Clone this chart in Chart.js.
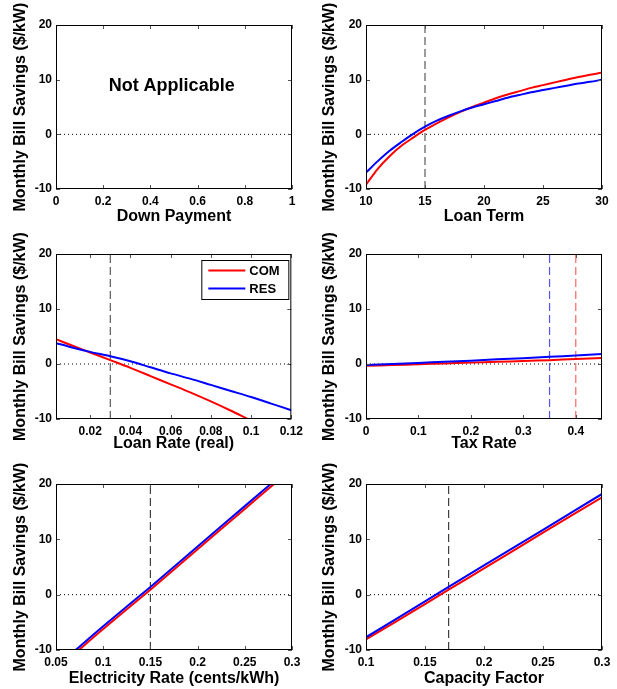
<!DOCTYPE html>
<html>
<head>
<meta charset="utf-8">
<title>Monthly Bill Savings sensitivity</title>
<script src="https://cdn.jsdelivr.net/npm/chart.js@4.4.1/dist/chart.umd.min.js"></script>
<style>
	body { margin: 0; background: #fff; }
	#wrap { position: relative; width: 617px; height: 689px; }
	#wrap canvas { position: absolute; }
</style>
</head>
<body>
<div id="wrap">
	<canvas id="c1" width="308" height="230" style="left:0px;top:0px"></canvas>
	<canvas id="c2" width="308" height="230" style="left:309px;top:0px"></canvas>
	<canvas id="c3" width="308" height="230" style="left:0px;top:230px"></canvas>
	<canvas id="c4" width="308" height="230" style="left:309px;top:230px"></canvas>
	<canvas id="c5" width="308" height="229" style="left:0px;top:460px"></canvas>
	<canvas id="c6" width="308" height="229" style="left:309px;top:460px"></canvas>
</div>
<script>
// ---- data ----
var yTitle = 'Monthly Bill Savings ($/kW)';
var yTicks = [-10, 0, 10, 20];
var seriesNames = ['COM', 'RES'];

// down payment (no curves)
var downTicks = [0, 0.2, 0.4, 0.6, 0.8, 1];
var downNote = 'Not Applicable';

// loan term
var termX   = [10, 11, 12, 13, 14, 15, 16, 17, 18, 19, 20, 21, 22, 23, 24, 25, 26, 27, 28, 29, 30];
var termCom = [-9.2, -6.3, -4.0, -2.1, -0.6, 0.8, 2.0, 3.1, 4.1, 5.0, 5.8, 6.6, 7.3, 7.9, 8.5, 9.0, 9.5, 10.0, 10.5, 10.9, 11.3];
var termRes = [-7.0, -4.9, -3.0, -1.4, 0.1, 1.4, 2.5, 3.4, 4.2, 4.9, 5.5, 6.1, 6.7, 7.2, 7.7, 8.1, 8.5, 8.9, 9.3, 9.6, 10.0];
var termTicks = [10, 15, 20, 25, 30];
var termBase = 15;

// loan rate (real)
var rateX   = [0.003, 0.01, 0.02, 0.03, 0.04, 0.05, 0.06, 0.07, 0.08, 0.09, 0.1, 0.11, 0.12];
var rateCom = [4.5, 3.5, 2.1, 0.7, -0.7, -2.2, -3.7, -5.2, -6.8, -8.5, -10.3, -12.0, -13.8];
var rateRes = [3.8, 3.1, 2.2, 1.4, 0.5, -0.6, -1.7, -2.7, -3.8, -4.9, -6.0, -7.2, -8.4];
var rateTicks = [0.02, 0.04, 0.06, 0.08, 0.1, 0.12];
var rateBase = 0.03;

// tax rate
var taxX   = [0, 0.05, 0.1, 0.15, 0.2, 0.25, 0.3, 0.35, 0.4, 0.45];
var taxCom = [-0.3, -0.2, -0.05, 0.1, 0.25, 0.4, 0.55, 0.7, 0.9, 1.1];
var taxRes = [-0.2, 0.0, 0.2, 0.4, 0.6, 0.85, 1.05, 1.3, 1.55, 1.8];
var taxTicks = [0, 0.1, 0.2, 0.3, 0.4];
var taxBaseRes = 0.35;
var taxBaseCom = 0.4;

// electricity rate
var elecX   = [0.07, 0.1, 0.15, 0.2, 0.25, 0.29];
var elecCom = [-10.6, -6.2, 0.9, 8.2, 15.5, 21.3];
var elecRes = [-10.1, -5.7, 1.4, 8.7, 16.0, 21.8];
var elecTicks = [0.05, 0.1, 0.15, 0.2, 0.25, 0.3];
var elecBase = 0.15;

// capacity factor
var capX   = [0.1, 0.15, 0.17, 0.2, 0.25, 0.3];
var capCom = [-8.1, -1.7, 0.9, 4.75, 11.2, 17.6];
var capRes = [-7.7, -1.2, 1.4, 5.3, 11.7, 18.2];
var capTicks = [0.1, 0.15, 0.2, 0.25, 0.3];
var capBase = 0.17;

// ---- drawing ----
Chart.defaults.font.family = 'Arial, "Liberation Sans", Helvetica, sans-serif';
Chart.defaults.font.weight = 'bold';
Chart.defaults.color = '#000';

var RED = '#ff0000';
var BLUE = '#0000ff';

function _pts(xs, ys) {
	return xs.map(function(x, i) { return { x: x, y: ys[i] }; });
}

function _curve(xs, ys, color, order) {
	return {
		data: _pts(xs, ys),
		borderColor: color,
		borderWidth: 2,
		pointRadius: 0,
		tension: 0.3,
		order: order
	};
}

function _vline(x, color) {
	return {
		data: _pts([x, x], [yTicks[0], yTicks[yTicks.length - 1]]),
		borderColor: color,
		borderWidth: 1.2,
		borderDash: [8, 4],
		pointRadius: 0,
		order: 5
	};
}

function _zeroLine(xMin, xMax) {
	return {
		data: _pts([xMin, xMax], [0, 0]),
		borderColor: '#000',
		borderWidth: 1,
		borderDash: [1, 3],
		pointRadius: 0,
		order: 6
	};
}

// axes box + small inward ticks like the original figure
var framePlugin = {
	id: 'framePlugin',
	afterDatasetsDraw: function(chart) {
		var ctx = chart.ctx;
		var a = chart.chartArea;
		var xs = chart.scales.x;
		var ys = chart.scales.y;
		ctx.save();
		ctx.strokeStyle = '#555';
		ctx.lineWidth = 1;
		ctx.beginPath();
		xs.ticks.forEach(function(t) {
			var px = Math.round(xs.getPixelForValue(t.value)) + 0.5;
			ctx.moveTo(px, a.bottom); ctx.lineTo(px, a.bottom - 4);
			ctx.moveTo(px, a.top); ctx.lineTo(px, a.top + 4);
		});
		ys.ticks.forEach(function(t) {
			var py = Math.round(ys.getPixelForValue(t.value)) + 0.5;
			ctx.moveTo(a.left, py); ctx.lineTo(a.left + 4, py);
			ctx.moveTo(a.right, py); ctx.lineTo(a.right - 4, py);
		});
		ctx.stroke();
		ctx.strokeStyle = '#000';
		ctx.strokeRect(a.left + 0.5, a.top + 0.5, a.right - a.left - 1, a.bottom - a.top - 1);
		ctx.restore();
	}
};

var notePlugin = {
	id: 'notePlugin',
	afterDraw: function(chart) {
		var ctx = chart.ctx;
		ctx.save();
		ctx.font = 'bold 18px Arial, "Liberation Sans", sans-serif';
		ctx.fillStyle = '#000';
		ctx.textAlign = 'center';
		ctx.textBaseline = 'middle';
		ctx.fillText(downNote, chart.scales.x.getPixelForValue(0.49), chart.scales.y.getPixelForValue(8.9));
		ctx.restore();
	}
};

var legendPlugin = {
	id: 'legendPlugin',
	afterDraw: function(chart) {
		var ctx = chart.ctx;
		var a = chart.chartArea;
		var w = 87, h = 39;
		var bx = a.right - 3 - w;
		var by = a.top + 6;
		var colors = [RED, BLUE];
		ctx.save();
		ctx.fillStyle = '#fff';
		ctx.fillRect(bx, by, w, h);
		ctx.strokeStyle = '#000';
		ctx.lineWidth = 1;
		ctx.strokeRect(bx + 0.5, by + 0.5, w, h);
		ctx.font = 'bold 13px Arial, "Liberation Sans", sans-serif';
		ctx.textBaseline = 'middle';
		ctx.textAlign = 'left';
		seriesNames.forEach(function(name, i) {
			var ly = by + 10.5 + i * 18;
			ctx.strokeStyle = colors[i];
			ctx.lineWidth = 2;
			ctx.beginPath();
			ctx.moveTo(bx + 7, ly);
			ctx.lineTo(bx + 44, ly);
			ctx.stroke();
			ctx.fillStyle = '#000';
			ctx.fillText(name, bx + 48, ly + 0.5);
		});
		ctx.restore();
	}
};

function createPanel(id, geo, xMin, xMax, xTicks, xTitle, datasets, extraPlugins) {
	var canvas = document.getElementById(id);
	var cw = canvas.width, chh = canvas.height;
	datasets.push(_zeroLine(xMin, xMax));

	return new Chart(canvas, {
		type: 'line',
		data: { datasets: datasets },
		options: {
			responsive: false,
			animation: false,
			layout: {
				autoPadding: false,
				padding: { left: 0, top: geo.t, right: cw - geo.r, bottom: 0 }
			},
			plugins: {
				legend: { display: false },
				tooltip: { enabled: false }
			},
			scales: {
				x: {
					type: 'linear',
					min: xMin,
					max: xMax,
					grid: { display: false, drawTicks: false },
					border: { display: false },
					ticks: {
						font: { size: 12, weight: 'bold' },
						color: '#000',
						padding: 5,
						maxRotation: 0,
						autoSkip: false,
						callback: function(v) { return String(+v.toFixed(4)); }
					},
					afterBuildTicks: function(s) {
						s.ticks = xTicks.map(function(v) { return { value: v }; });
					},
					afterFit: function(s) { s.height = chh - geo.b; },
					title: {
						display: true,
						text: xTitle,
						font: { size: 16, weight: 'bold' },
						color: '#000',
						padding: { top: 0, bottom: geo.xp }
					}
				},
				y: {
					type: 'linear',
					min: yTicks[0],
					max: yTicks[yTicks.length - 1],
					grid: { display: false, drawTicks: false },
					border: { display: false },
					ticks: {
						font: { size: 12, weight: 'bold' },
						color: '#000',
						padding: 4
					},
					afterBuildTicks: function(s) {
						s.ticks = yTicks.map(function(v) { return { value: v }; });
					},
					afterFit: function(s) { s.width = geo.l; },
					title: {
						display: true,
						text: yTitle,
						font: { size: 16, weight: 'bold' },
						color: '#000',
						padding: { top: 11, bottom: 0 }
					}
				}
			}
		},
		plugins: [framePlugin].concat(extraPlugins || [])
	});
}

// plot areas inside each canvas (left, top, right, bottom) + x title padding
var geoTL = { l: 56, t: 25, r: 292, b: 189, xp: 4 };
var geoTR = { l: 57, t: 25, r: 293, b: 189, xp: 4 };
var geoML = { l: 56, t: 24, r: 292, b: 189, xp: 7 };
var geoMR = { l: 57, t: 24, r: 293, b: 189, xp: 7 };
var geoBL = { l: 56, t: 24, r: 292, b: 190, xp: 1 };
var geoBR = { l: 57, t: 24, r: 293, b: 190, xp: 1 };

createPanel('c1', geoTL, 0, 1, downTicks, 'Down Payment', [], [notePlugin]);

createPanel('c2', geoTR, 10, 30, termTicks, 'Loan Term', [
	_curve(termX, termRes, BLUE, 0),
	_curve(termX, termCom, RED, 1),
	_vline(termBase, 'rgba(0,0,0,0.65)')
]);

createPanel('c3', geoML, 0.003, 0.12, rateTicks, 'Loan Rate (real)', [
	_curve(rateX, rateRes, BLUE, 0),
	_curve(rateX, rateCom, RED, 1),
	_vline(rateBase, 'rgba(0,0,0,0.65)')
], [legendPlugin]);

createPanel('c4', geoMR, 0, 0.45, taxTicks, 'Tax Rate', [
	_curve(taxX, taxRes, BLUE, 0),
	_curve(taxX, taxCom, RED, 1),
	_vline(taxBaseRes, 'rgba(40,40,255,0.8)'),
	_vline(taxBaseCom, 'rgba(255,60,60,0.8)')
]);

createPanel('c5', geoBL, 0.05, 0.3, elecTicks, 'Electricity Rate (cents/kWh)', [
	_curve(elecX, elecRes, BLUE, 0),
	_curve(elecX, elecCom, RED, 1),
	_vline(elecBase, 'rgba(0,0,0,0.75)')
]);

createPanel('c6', geoBR, 0.1, 0.3, capTicks, 'Capacity Factor', [
	_curve(capX, capRes, BLUE, 0),
	_curve(capX, capCom, RED, 1),
	_vline(capBase, 'rgba(0,0,0,0.75)')
]);
</script>
</body>
</html>
